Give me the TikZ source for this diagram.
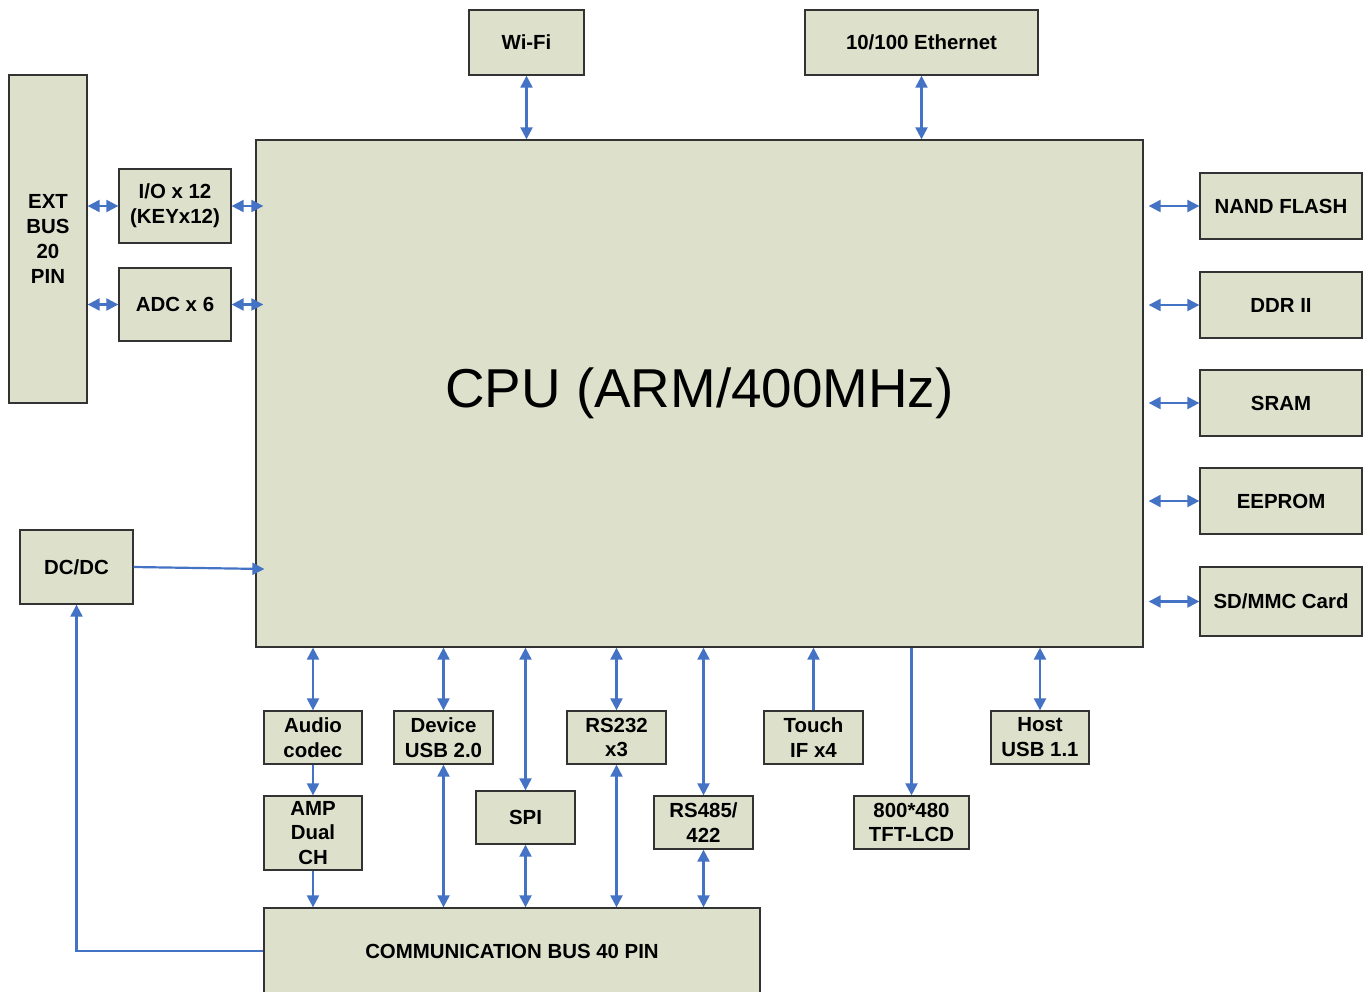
\documentclass[tikz,border=0pt]{standalone}
\usepackage{fontspec}
\setmainfont{Liberation Sans}
\usepackage{tikz}
\usetikzlibrary{arrows.meta, positioning}

\definecolor{boxfill}{RGB}{221,225,204}
\definecolor{linkblue}{RGB}{68,114,196}

\begin{document}
\begin{tikzpicture}[
    x=1bp, y=-1bp,
    font=\fontsize{20.5}{25}\selectfont\bfseries,
    >={Triangle[length=12bp, width=12bp]},
    block/.style={draw=black!80, fill=boxfill, line width=1.3bp, inner sep=0pt, align=center},
    link/.style={->, draw=linkblue, line width=2.2bp},
    dlink/.style={<->, draw=linkblue, line width=2.2bp}
]
\useasboundingbox (0,0) rectangle (1370,991);

\node[block, minimum width=887bp, minimum height=507bp, font=\fontsize{55}{60}\selectfont] (cpu) at (699.5, 393.5) {CPU (ARM/400MHz)};

\node[block, minimum width=115bp, minimum height=65bp] (wifi) at (526.5, 42.5) {Wi-Fi};
\node[block, minimum width=233bp, minimum height=65bp] (eth) at (921.5, 42.5) {10/100 Ethernet};

\node[block, minimum width=78bp, minimum height=328bp] (ext) at (48, 239) {EXT\\BUS\\20\\PIN};
\node[block, minimum width=112bp, minimum height=74bp] (io) at (175, 206) {I/O x 12\\(KEYx12)};
\node[block, minimum width=112bp, minimum height=73bp] (adc) at (175, 304.5) {ADC x 6};
\node[block, minimum width=113bp, minimum height=74bp] (dcdc) at (76.5, 567) {DC/DC};

\node[block, minimum width=162bp, minimum height=66bp] (nand) at (1281, 206) {NAND FLASH};
\node[block, minimum width=162bp, minimum height=66bp] (ddr) at (1281, 305) {DDR II};
\node[block, minimum width=162bp, minimum height=66bp] (sram) at (1281, 403) {SRAM};
\node[block, minimum width=162bp, minimum height=66bp] (eeprom) at (1281, 501) {EEPROM};
\node[block, minimum width=162bp, minimum height=69bp] (sdmmc) at (1281, 601.5) {SD/MMC Card};

\node[block, minimum width=98bp, minimum height=53bp] (audio) at (313, 737.5) {Audio\\codec};
\node[block, minimum width=98bp, minimum height=74bp] (amp) at (313, 833) {AMP\\Dual\\CH};
\node[block, minimum width=99bp, minimum height=53bp] (devusb) at (443.5, 737.5) {Device\\USB 2.0};
\node[block, minimum width=99bp, minimum height=53bp] (spi) at (525.5, 817.5) {SPI};
\node[block, minimum width=99bp, minimum height=53bp] (rs232) at (616.5, 737.5) {RS232\\x3};
\node[block, minimum width=99bp, minimum height=53bp] (rs485) at (703.5, 822.5) {RS485/\\422};
\node[block, minimum width=99bp, minimum height=53bp] (touch) at (813.5, 737.5) {Touch\\IF x4};
\node[block, minimum width=115bp, minimum height=53bp] (tft) at (911.5, 822.5) {800*480\\TFT-LCD};
\node[block, minimum width=98bp, minimum height=53bp] (host) at (1040, 737.5) {Host\\USB 1.1};

\node[block, minimum width=496bp, minimum height=86bp] (comm) at (512, 951) {COMMUNICATION BUS 40 PIN};

% top
\draw[dlink] (wifi) -- (wifi |- cpu.north);
\draw[dlink] (eth) -- (eth |- cpu.north);

% left
\draw[dlink] (ext.east |- io) -- (io);
\draw[dlink, shorten >=-8bp] (io) -- (io -| cpu.west);
\draw[dlink] (ext.east |- adc) -- (adc);
\draw[dlink, shorten >=-8bp] (adc) -- (adc -| cpu.west);
\draw[link] (dcdc.east) -- ([shift={(9,2)}]dcdc.east -| cpu.west);
\draw[link] (comm.west) -| (dcdc.south);

% right
\draw[dlink, shorten <=5bp] (nand -| cpu.east) -- (nand);
\draw[dlink, shorten <=5bp] (ddr -| cpu.east) -- (ddr);
\draw[dlink, shorten <=5bp] (sram -| cpu.east) -- (sram);
\draw[dlink, shorten <=5bp] (eeprom -| cpu.east) -- (eeprom);
\draw[dlink, shorten <=5bp] (sdmmc -| cpu.east) -- (sdmmc);

% bottom
\draw[dlink] (audio) -- (audio |- cpu.south);
\draw[link] (audio) -- (amp);
\draw[link] (amp) -- (amp |- comm.north);
\draw[dlink] (devusb) -- (devusb |- cpu.south);
\draw[dlink] (devusb) -- (devusb |- comm.north);
\draw[dlink] (spi) -- (spi |- cpu.south);
\draw[dlink] (spi) -- (spi |- comm.north);
\draw[dlink] (rs232) -- (rs232 |- cpu.south);
\draw[dlink] (rs232) -- (rs232 |- comm.north);
\draw[dlink] (rs485) -- (rs485 |- cpu.south);
\draw[dlink] (rs485) -- (rs485 |- comm.north);
\draw[link] (touch) -- (touch |- cpu.south);
\draw[link] (tft |- cpu.south) -- (tft);
\draw[dlink] (host) -- (host |- cpu.south);

\end{tikzpicture}
\end{document}
